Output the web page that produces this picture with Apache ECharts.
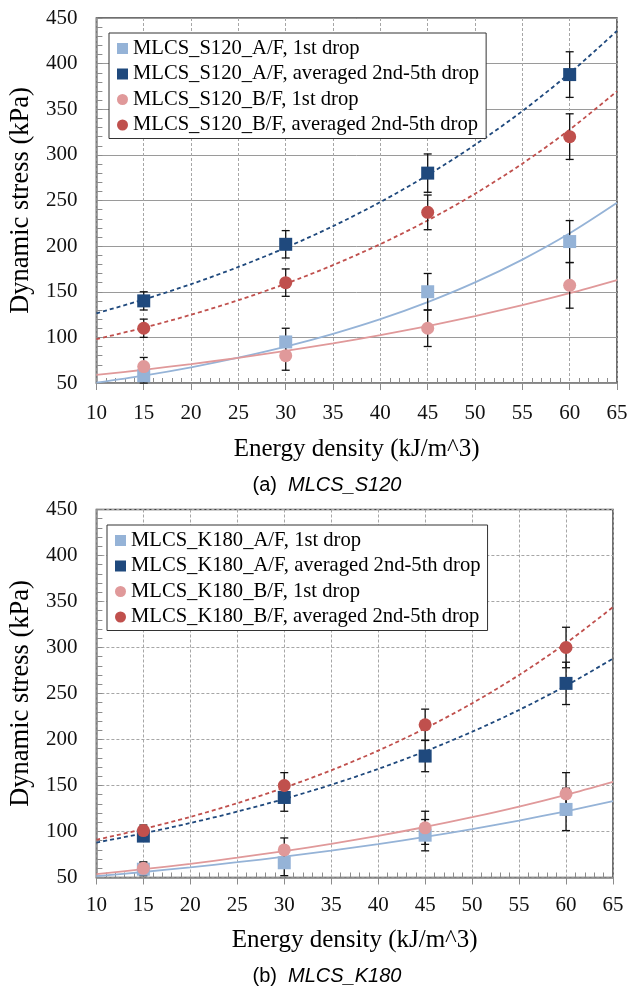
<!DOCTYPE html>
<html>
<head>
<meta charset="utf-8">
<script src="https://cdn.jsdelivr.net/npm/echarts@6/dist/echarts.min.js"></script>
<style>
html,body{margin:0;padding:0;background:#fff;}
#chart{width:642px;height:986px;}
</style>
</head>
<body>
<div id="chart"></div>
<script>
// ---- data ----
const energy = [15, 30, 45, 60];
const xTicks = [10, 15, 20, 25, 30, 35, 40, 45, 50, 55, 60, 65];
const yTicks = [50, 100, 150, 200, 250, 300, 350, 400, 450];

// (a) MLCS_S120
const s120_AF_1st = [58, 95, 150, 205];
const s120_AF_1st_err = [8, 15, 20, 23];
const s120_AF_avg = [140, 202, 280, 388];
const s120_AF_avg_err = [10, 15, 21, 25];
const s120_BF_1st = [68, 80, 110, 157];
const s120_BF_1st_err = [10, 16, 20, 25];
const s120_BF_avg = [110, 160, 237, 320];
const s120_BF_avg_err = [10, 15, 19, 25];

// trend lines read at x = 10,15,...,65
const trendX = [10, 15, 20, 25, 30, 35, 40, 45, 50, 55, 60, 65];
const s120_AF_1st_trend = [50.3, 58.1, 67.2, 77.7, 89.8, 103.8, 119.9, 138.6, 160.2, 185.2, 214.0, 247.4];
const s120_AF_avg_trend = [126.4, 141.5, 158.3, 177.2, 198.3, 221.9, 248.3, 277.9, 311.0, 348.0, 389.5, 435.9];
const s120_BF_1st_trend = [58.8, 64.5, 70.8, 77.6, 85.2, 93.4, 102.5, 112.4, 123.3, 135.3, 148.4, 162.8];
const s120_BF_avg_trend = [98.0, 110.6, 124.8, 140.8, 158.8, 179.2, 202.2, 228.1, 257.4, 290.4, 327.7, 369.7];

// (b) MLCS_K180
const k180_AF_1st = [59, 66, 96, 124];
const k180_AF_1st_err = [7, 14, 17, 23];
const k180_AF_avg = [95, 137, 182, 261];
const k180_AF_avg_err = [5, 15, 17, 23];
const k180_BF_1st = [60, 80, 104, 141];
const k180_BF_1st_err = [7, 13, 18, 23];
const k180_BF_avg = [101, 150, 216, 300];
const k180_BF_avg_err = [6, 14, 17, 22];

const k180_AF_1st_trend = [51.4, 56.0, 61.1, 66.6, 72.6, 79.2, 86.3, 94.1, 102.6, 111.9, 122.0, 133.0];
const k180_AF_avg_trend = [88.0, 98.0, 109.2, 121.6, 135.4, 150.8, 168.0, 187.1, 208.4, 232.1, 258.5, 287.9];
const k180_BF_1st_trend = [53.6, 59.0, 64.9, 71.5, 78.7, 86.6, 95.3, 104.9, 115.5, 127.1, 139.9, 154.0];
const k180_BF_avg_trend = [91.0, 102.7, 115.9, 130.8, 147.6, 166.5, 187.9, 212.1, 239.3, 270.1, 304.8, 343.9];

const namesA = ['MLCS_S120_A/F, 1st drop', 'MLCS_S120_A/F, averaged 2nd-5th drop', 'MLCS_S120_B/F, 1st drop', 'MLCS_S120_B/F, averaged 2nd-5th drop'];
const namesB = ['MLCS_K180_A/F, 1st drop', 'MLCS_K180_A/F, averaged 2nd-5th drop', 'MLCS_K180_B/F, 1st drop', 'MLCS_K180_B/F, averaged 2nd-5th drop'];

// ---- styles ----
const colors = ['#95B3D7', '#1F497D', '#E0999A', '#C0504D'];
const symbols = ['rect', 'rect', 'circle', 'circle'];
const dashed = [false, true, false, true];
const serif = 'Liberation Serif';

const chart = echarts.init(document.getElementById('chart'), null, {renderer: 'canvas'});

function pairs(xs, ys) { return xs.map((x, i) => [x, ys[i]]); }
function errData(xs, ys, es) { return xs.map((x, i) => [x, ys[i] - es[i], ys[i] + es[i]]); }

function errRender(params, api) {
  const x = api.value(0), lo = api.value(1), hi = api.value(2);
  const a = api.coord([x, hi]), b = api.coord([x, lo]);
  const w = 4;
  const st = {stroke: '#111', lineWidth: 1.3};
  return {type: 'group', children: [
    {type: 'line', shape: {x1: a[0], y1: a[1], x2: b[0], y2: b[1]}, style: st},
    {type: 'line', shape: {x1: a[0] - w, y1: a[1], x2: a[0] + w, y2: a[1]}, style: st},
    {type: 'line', shape: {x1: b[0] - w, y1: b[1], x2: b[0] + w, y2: b[1]}, style: st}
  ]};
}

function panelSeries(idx, names, pts, errs, trends) {
  const out = [];
  for (let i = 0; i < 4; i++) {
    out.push({
      type: 'line', xAxisIndex: idx * 2, yAxisIndex: idx, name: 't' + idx + i,
      data: pairs(trendX, trends[i]), showSymbol: false, symbol: 'none', smooth: 0.3,
      lineStyle: {color: colors[i], width: 1.8, type: dashed[i] ? [4, 3] : 'solid'},
      silent: true, z: 2
    });
  }
  for (let i = 0; i < 4; i++) {
    out.push({
      type: 'custom', xAxisIndex: idx * 2, yAxisIndex: idx, name: 'e' + idx + i,
      renderItem: errRender, data: errData(energy, pts[i], errs[i]), z: 3, silent: true,
      encode: {x: 0, y: [1, 2]}
    });
  }
  for (let i = 0; i < 4; i++) {
    out.push({
      type: 'scatter', xAxisIndex: idx * 2, yAxisIndex: idx, name: names[i],
      data: pairs(energy, pts[i]), symbol: symbols[i], symbolSize: 13,
      itemStyle: {color: colors[i], opacity: 1}, z: 4
    });
  }
  return out;
}

function xAxes(grid, gap, margin) {
  return [{
    type: 'value', gridIndex: grid, min: xTicks[0], max: xTicks[xTicks.length - 1], interval: 5,
    position: 'bottom',
    name: 'Energy density (kJ/m^3)', nameLocation: 'middle', nameGap: gap,
    nameTextStyle: {fontFamily: serif, fontSize: 25, color: '#000'},
    axisLine: {show: true, lineStyle: {color: '#8c8c8c', width: 1.5}},
    axisTick: {show: true, inside: false, length: 7, lineStyle: {color: '#8c8c8c'}},
    axisLabel: {fontFamily: serif, fontSize: 21, color: '#111', margin: margin},
    splitLine: {show: true, lineStyle: {color: '#a6a6a6', type: [3, 2], width: 1}}
  }, {
    type: 'value', gridIndex: grid, min: xTicks[0], max: xTicks[xTicks.length - 1], interval: 5,
    position: 'bottom',
    axisLine: {show: false}, axisLabel: {show: false}, splitLine: {show: false},
    axisTick: {show: false, inside: true},
    minorTick: {show: true, splitNumber: 5, length: 5, lineStyle: {color: '#8c8c8c'}}
  }];
}

function yAxis(grid, solidGrid) {
  return {
    type: 'value', gridIndex: grid, min: yTicks[0], max: yTicks[yTicks.length - 1], interval: 50,
    name: 'Dynamic stress (kPa)', nameLocation: 'middle', nameGap: 56,
    nameTextStyle: {fontFamily: serif, fontSize: 26.5, color: '#000'},
    axisLine: {show: true, lineStyle: {color: '#8c8c8c', width: 1.5}},
    axisTick: {show: true, inside: true, length: 6, lineStyle: {color: '#8c8c8c'}},
    minorTick: {show: true, splitNumber: 5, length: 6, lineStyle: {color: '#8c8c8c'}},
    axisLabel: {fontFamily: serif, fontSize: 21, color: '#111', margin: 19},
    splitLine: {show: true, lineStyle: {color: solidGrid ? '#9a9a9a' : '#a6a6a6', type: solidGrid ? 'solid' : [3, 2], width: 1}}
  };
}

function legend(names, left, top) {
  return {
    data: names.map((n, i) => ({name: n, icon: symbols[i] === 'rect' ? 'rect' : 'circle'})),
    orient: 'vertical', left: left, top: top,
    backgroundColor: '#fff', borderColor: '#333', borderWidth: 1,
    padding: [5, 7, 3, 8], itemGap: 4.5, itemWidth: 11, itemHeight: 11,
    textStyle: {fontFamily: serif, fontSize: 20.6, color: '#000', lineHeight: 20},
    z: 10
  };
}

const capRich = {
  n: {fontFamily: 'Liberation Sans', fontSize: 20, fontWeight: 'normal', color: '#000'},
  i: {fontFamily: 'Liberation Sans', fontSize: 20, fontWeight: 'normal', fontStyle: 'italic', color: '#000'}
};

const option = {
  backgroundColor: '#fff',
  animation: false,
  title: [{
    text: '{n|(a)  }{i|MLCS_S120}', left: 322, top: 470, textAlign: 'center',
    textStyle: {fontWeight: 'normal', rich: capRich}
  }, {
    text: '{n|(b)  }{i|MLCS_K180}', left: 322, top: 961, textAlign: 'center',
    textStyle: {fontWeight: 'normal', rich: capRich}
  }],
  grid: [
    {left: 93, top: 18, width: 524, height: 365, show: true, borderColor: '#404040', borderWidth: 1.5, backgroundColor: 'transparent'},
    {left: 93, top: 509.5, width: 520, height: 368, show: true, borderColor: '#404040', borderWidth: 1.5, backgroundColor: 'transparent'}
  ],
  legend: [legend(namesA, 109, 33), legend(namesB, 107, 525)],
  xAxis: [...xAxes(0, 54, 20), ...xAxes(1, 50, 17)],
  yAxis: [yAxis(0, true), yAxis(1, false)],
  series: [
    ...panelSeries(0, namesA,
      [s120_AF_1st, s120_AF_avg, s120_BF_1st, s120_BF_avg],
      [s120_AF_1st_err, s120_AF_avg_err, s120_BF_1st_err, s120_BF_avg_err],
      [s120_AF_1st_trend, s120_AF_avg_trend, s120_BF_1st_trend, s120_BF_avg_trend]),
    ...panelSeries(1, namesB,
      [k180_AF_1st, k180_AF_avg, k180_BF_1st, k180_BF_avg],
      [k180_AF_1st_err, k180_AF_avg_err, k180_BF_1st_err, k180_BF_avg_err],
      [k180_AF_1st_trend, k180_AF_avg_trend, k180_BF_1st_trend, k180_BF_avg_trend])
  ]
};
chart.setOption(option);
</script>
</body>
</html>
